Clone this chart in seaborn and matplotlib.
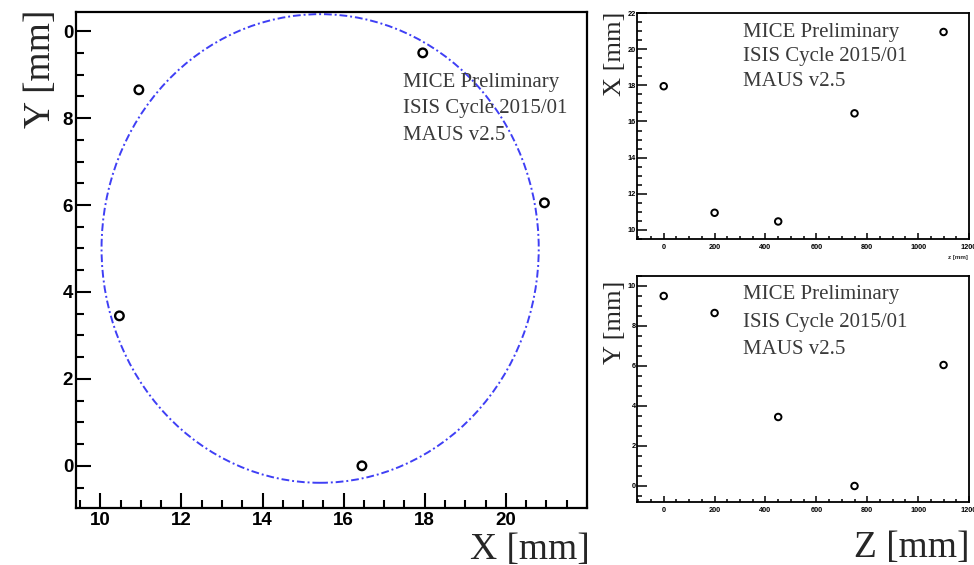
import numpy as np
import pandas as pd
import matplotlib
matplotlib.use("Agg")
import matplotlib.pyplot as plt
from matplotlib.patches import Circle
from matplotlib.ticker import MultipleLocator, FixedLocator, FixedFormatter
import seaborn as sns

#### data ####
z_pos = [0, 200, 450, 750, 1100]          # station z [mm]
x_pos = [17.95, 10.95, 10.47, 16.45, 20.95]  # X [mm]
y_pos = [9.5, 8.65, 3.45, 0.0, 6.05]        # Y [mm]

# fitted circle in the X-Y plane
circle_centre = (15.42, 5.0)
circle_radius = 5.39

left_yticks = [0, 2, 4, 6, 8, 10]
left_ytick_labels = ["0", "2", "4", "6", "8", "0"]
left_xticks = [10, 12, 14, 16, 18, 20]
z_ticks = [0, 200, 400, 600, 800, 1000, 1200]

label_lines = ["MICE Preliminary", "ISIS Cycle 2015/01", "MAUS v2.5"]

df = pd.DataFrame({"z": z_pos, "x": x_pos, "y": y_pos})

sns.set_style("white")
plt.rcParams["font.family"] = ["Liberation Sans", "DejaVu Sans"]

W, H = 974, 565
fig = plt.figure(figsize=(W / 100, H / 100), dpi=100)


def fx(px):
    return px / W


def fy(py):
    return 1 - py / H


def box(l, t, r, b):
    return [fx(l), fy(b), fx(r) - fx(l), fy(t) - fy(b)]


serif = ["Liberation Serif", "DejaVu Serif"]
grey = "#3a3a3a"


def style_axes(ax, lw, major, minor, width, size, xpad, ypad):
    for s in ax.spines.values():
        s.set_linewidth(lw)
        s.set_color("black")
    ax.tick_params(which="both", direction="in", bottom=True, left=True,
                   top=False, right=False, width=width, color="black",
                   labelcolor="black")
    ax.tick_params(axis="y", which="major", length=major[1], pad=ypad)
    ax.tick_params(axis="y", which="minor", length=minor[1])
    ax.tick_params(axis="x", which="major", length=major[0], pad=xpad)
    ax.tick_params(axis="x", which="minor", length=minor[0])
    for lab in ax.get_xticklabels() + ax.get_yticklabels():
        lab.set_fontweight("bold")
        lab.set_fontsize(size)
    ax.set_xlabel("")
    ax.set_ylabel("")


#### 1. X-Y view ####
ax1 = fig.add_axes(box(76, 12, 587, 508))
sns.scatterplot(data=df, x="x", y="y", ax=ax1, marker="o", s=38,
                facecolor="none", edgecolor="black", linewidth=1.7, zorder=3)
ax1.add_patch(Circle(circle_centre, circle_radius, fill=False,
                     edgecolor="#3f3ff5", linewidth=1.4,
                     linestyle=(0, (4, 1.5, 1, 1.5)), zorder=2))
ax1.set_xlim(9.4, 22.0)
ax1.set_ylim(-0.97, 10.44)
ax1.xaxis.set_major_locator(FixedLocator(left_xticks))
ax1.xaxis.set_minor_locator(MultipleLocator(0.5))
ax1.yaxis.set_major_locator(FixedLocator(left_yticks))
ax1.yaxis.set_major_formatter(FixedFormatter(left_ytick_labels))
ax1.yaxis.set_minor_locator(MultipleLocator(0.5))
style_axes(ax1, 1.6, (11, 11), (5.5, 5.5), 1.5, 13.5, 3, 2)

for i, line in enumerate(label_lines):
    fig.text(fx(403), fy(82 + 27 * i), line, family=serif, fontsize=15,
             color=grey, va="center", ha="left")

fig.text(fx(41), fy(10), "Y [mm]", family=serif, fontsize=27,
         rotation=90, ha="center", va="top")
fig.text(fx(590), fy(532), "X [mm]", family=serif, fontsize=27,
         ha="right", va="top")

#### 2. X vs z ####
ax2 = fig.add_axes(box(637, 13, 969, 239))
sns.scatterplot(data=df, x="z", y="x", ax=ax2, marker="o", s=22,
                facecolor="none", edgecolor="black", linewidth=1.4, zorder=3)
ax2.set_xlim(-105, 1200)
ax2.set_ylim(9.5, 22.0)
ax2.xaxis.set_major_locator(FixedLocator(z_ticks))
ax2.xaxis.set_minor_locator(MultipleLocator(50))
ax2.yaxis.set_major_locator(MultipleLocator(2))
ax2.yaxis.set_minor_locator(MultipleLocator(0.5))
style_axes(ax2, 1.3, (4.5, 7), (2.5, 3.5), 1.1, 5.3, 3.5, 1)

for i, line in enumerate(label_lines):
    fig.text(fx(743), fy(32 + 25 * i), line, family=serif, fontsize=15,
             color=grey, va="center", ha="left")
fig.text(fx(615), fy(12), "X [mm]", family=serif, fontsize=19,
         rotation=90, ha="center", va="top")
fig.text(fx(958), fy(257), "z [mm]", fontsize=4.5, fontweight="bold",
         ha="center", va="center")

#### 3. Y vs z ####
ax3 = fig.add_axes(box(637, 276, 969, 502))
sns.scatterplot(data=df, x="z", y="y", ax=ax3, marker="o", s=22,
                facecolor="none", edgecolor="black", linewidth=1.4, zorder=3)
ax3.set_xlim(-105, 1200)
ax3.set_ylim(-0.8, 10.5)
ax3.xaxis.set_major_locator(FixedLocator(z_ticks))
ax3.xaxis.set_minor_locator(MultipleLocator(50))
ax3.yaxis.set_major_locator(MultipleLocator(2))
ax3.yaxis.set_minor_locator(MultipleLocator(0.5))
style_axes(ax3, 1.3, (4.5, 7), (2.5, 3.5), 1.1, 5.3, 3.5, 1)

for i, line in enumerate(label_lines):
    fig.text(fx(743), fy(295 + 27 * i), line, family=serif, fontsize=15,
             color=grey, va="center", ha="left")
fig.text(fx(615), fy(281), "Y [mm]", family=serif, fontsize=19,
         rotation=90, ha="center", va="top")
fig.text(fx(970), fy(531), "Z [mm]", family=serif, fontsize=27,
         ha="right", va="top")

fig.savefig("out.png", dpi=100)
